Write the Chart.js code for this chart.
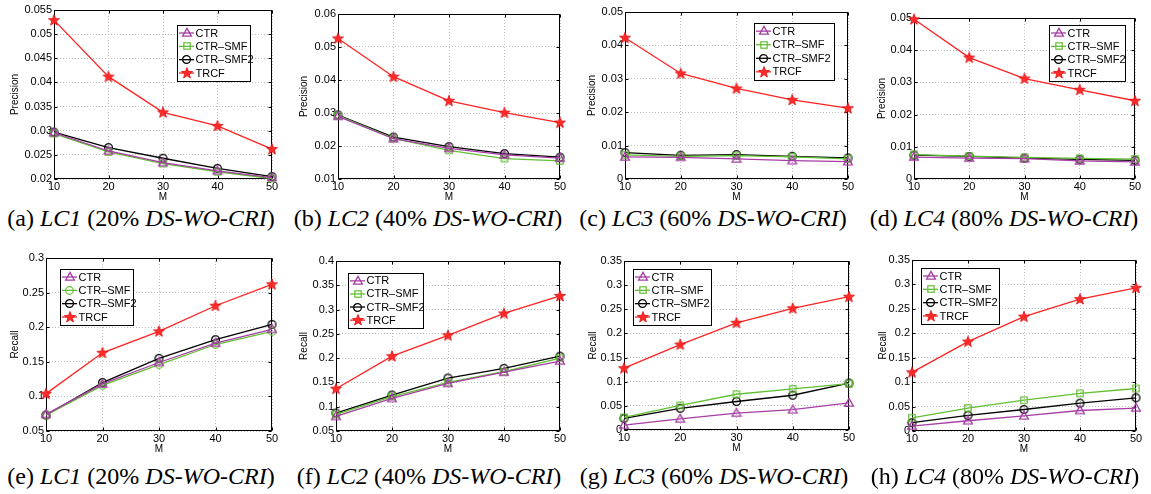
<!DOCTYPE html>
<html><head><meta charset="utf-8">
<script src="https://cdn.jsdelivr.net/npm/chart.js@4.4.1/dist/chart.umd.min.js"></script>
<style>
html,body{margin:0;padding:0;background:#fff;width:1151px;height:494px;overflow:hidden;position:relative;}
canvas.pane{position:absolute;}
.cap{position:absolute;font-family:"Liberation Serif","Times New Roman",serif;font-size:24px;line-height:24px;white-space:nowrap;transform:translateX(-50%);color:#000;}
</style></head><body>
<script>
// ---------- data ----------
const mValues = [10, 20, 30, 40, 50];
const xTickLabels = ['10', '20', '30', '40', '50'];
const seriesNames = ['CTR', 'CTR–SMF', 'CTR–SMF2', 'TRCF'];

// (a) LC1 precision
const lc1PrecCTR  = [0.0296, 0.0258, 0.0234, 0.0217, 0.0203];
const lc1PrecSMF  = [0.0294, 0.0256, 0.0232, 0.0215, 0.0201];
const lc1PrecSMF2 = [0.0297, 0.0265, 0.0243, 0.0222, 0.0205];
const lc1PrecTRCF = [0.0529, 0.0412, 0.0338, 0.0310, 0.0262];
const lc1PrecTicks = ['0.02', '0.025', '0.03', '0.035', '0.04', '0.045', '0.05', '0.055'];

// (b) LC2 precision
const lc2PrecCTR  = [0.0290, 0.0222, 0.0193, 0.0173, 0.0163];
const lc2PrecSMF  = [0.0292, 0.0223, 0.0187, 0.0162, 0.0155];
const lc2PrecSMF2 = [0.0294, 0.0227, 0.0198, 0.0177, 0.0166];
const lc2PrecTRCF = [0.0526, 0.0410, 0.0337, 0.0301, 0.0271];
const lc2PrecTicks = ['0.01', '0.02', '0.03', '0.04', '0.05', '0.06'];

// (c) LC3 precision
const lc3PrecCTR  = [0.0066, 0.0065, 0.0060, 0.0055, 0.0052];
const lc3PrecSMF  = [0.0072, 0.0068, 0.0070, 0.0066, 0.0060];
const lc3PrecSMF2 = [0.0079, 0.0071, 0.0073, 0.0068, 0.0063];
const lc3PrecTRCF = [0.0423, 0.0316, 0.0271, 0.0237, 0.0212];
const lc3PrecTicks = ['0', '0.01', '0.02', '0.03', '0.04', '0.05'];

// (d) LC4 precision
const lc4PrecCTR  = [0.0068, 0.0065, 0.0063, 0.0056, 0.0053];
const lc4PrecSMF  = [0.0076, 0.0071, 0.0067, 0.0064, 0.0062];
const lc4PrecSMF2 = [0.0074, 0.0070, 0.0065, 0.0061, 0.0058];
const lc4PrecTRCF = [0.0496, 0.0377, 0.0312, 0.0277, 0.0243];
const lc4PrecTicks = ['0', '0.01', '0.02', '0.03', '0.04', '0.05'];

// (e) LC1 recall
const lc1RecCTR  = [0.074, 0.118, 0.149, 0.177, 0.197];
const lc1RecSMF  = [0.073, 0.116, 0.146, 0.175, 0.194];
const lc1RecSMF2 = [0.073, 0.120, 0.155, 0.182, 0.204];
const lc1RecTRCF = [0.104, 0.163, 0.194, 0.231, 0.262];
const lc1RecTicks = ['0.05', '0.1', '0.15', '0.2', '0.25', '0.3'];

// (f) LC2 recall
const lc2RecCTR  = [0.080, 0.117, 0.148, 0.171, 0.194];
const lc2RecSMF  = [0.084, 0.121, 0.150, 0.172, 0.200];
const lc2RecSMF2 = [0.087, 0.124, 0.159, 0.179, 0.204];
const lc2RecTRCF = [0.137, 0.204, 0.247, 0.292, 0.328];
const lc2RecTicks = ['0.05', '0.1', '0.15', '0.2', '0.25', '0.3', '0.35', '0.4'];

// (g) LC3 recall
const lc3RecCTR  = [0.010, 0.023, 0.035, 0.042, 0.056];
const lc3RecSMF  = [0.026, 0.051, 0.074, 0.085, 0.096];
const lc3RecSMF2 = [0.024, 0.045, 0.059, 0.072, 0.097];
const lc3RecTRCF = [0.128, 0.177, 0.222, 0.252, 0.276];
const lc3RecTicks = ['0', '0.05', '0.1', '0.15', '0.2', '0.25', '0.3', '0.35'];

// (h) LC4 recall
const lc4RecCTR  = [0.010, 0.021, 0.031, 0.042, 0.047];
const lc4RecSMF  = [0.027, 0.047, 0.063, 0.077, 0.087];
const lc4RecSMF2 = [0.017, 0.032, 0.044, 0.057, 0.068];
const lc4RecTRCF = [0.120, 0.183, 0.234, 0.270, 0.293];
const lc4RecTicks = ['0', '0.05', '0.1', '0.15', '0.2', '0.25', '0.3', '0.35'];

// ---------- styles ----------
const COL = { ctr: '#a63ea6', smf: '#62bf33', smf2: '#000000', trcf: '#ff2222' };
const SANS = '"Liberation Sans", Arial, Helvetica, sans-serif';

function mk(size, draw) {
  const c = document.createElement('canvas');
  c.width = size; c.height = size;
  const g = c.getContext('2d');
  draw(g, size / 2);
  return c;
}
const mTri = mk(12, (g, c) => {
  g.strokeStyle = COL.ctr; g.lineWidth = 1.3;
  g.beginPath(); g.moveTo(c, c - 4.6); g.lineTo(c + 4.4, c + 3.2); g.lineTo(c - 4.4, c + 3.2); g.closePath(); g.stroke();
});
const mSq = mk(10, (g, c) => {
  g.strokeStyle = COL.smf; g.lineWidth = 1.2;
  g.strokeRect(c - 3.2, c - 3.2, 6.4, 6.4);
});
const mCircG = mk(11, (g, c) => {
  g.strokeStyle = COL.smf; g.lineWidth = 1.2;
  g.beginPath(); g.arc(c, c, 3.8, 0, Math.PI * 2); g.stroke();
});
const mCirc = mk(11, (g, c) => {
  g.strokeStyle = COL.smf2; g.lineWidth = 1.3;
  g.beginPath(); g.arc(c, c, 3.9, 0, Math.PI * 2); g.stroke();
});
const mStar = mk(14, (g, c) => {
  g.fillStyle = '#ff2a2a'; g.strokeStyle = '#e01010'; g.lineWidth = 0.8;
  g.beginPath();
  for (let i = 0; i < 10; i++) {
    const r = i % 2 === 0 ? 5.8 : 2.4;
    const a = -Math.PI / 2 + i * Math.PI / 5;
    const x = c + r * Math.cos(a), y = c + 0.3 + r * Math.sin(a);
    if (i === 0) g.moveTo(x, y); else g.lineTo(x, y);
  }
  g.closePath(); g.fill(); g.stroke();
});

// ---------- panels (layout) ----------
const panels = [
  { plot: [54, 10, 272, 179], yTitle: 'Precision', ticks: lc1PrecTicks, series: [lc1PrecCTR, lc1PrecSMF, lc1PrecSMF2, lc1PrecTRCF], legend: [177, 25, 73, 56], yOff: 39, smfM: mSq, cap: ['(a) ', 'LC1', ' (20% ', 'DS-WO-CRI', ')'], capX: 141, capY: 206 },
  { plot: [338, 14, 560, 179], yTitle: 'Precision', ticks: lc2PrecTicks, series: [lc2PrecCTR, lc2PrecSMF, lc2PrecSMF2, lc2PrecTRCF], legend: null, yOff: 34, smfM: mSq, cap: ['(b) ', 'LC2', ' (40% ', 'DS-WO-CRI', ')'], capX: 428, capY: 206 },
  { plot: [625, 12, 848, 179], yTitle: 'Precision', ticks: lc3PrecTicks, series: [lc3PrecCTR, lc3PrecSMF, lc3PrecSMF2, lc3PrecTRCF], legend: [754, 23, 80, 57], yOff: 33, smfM: mSq, cap: ['(c) ', 'LC3', ' (60% ', 'DS-WO-CRI', ')'], capX: 713, capY: 206 },
  { plot: [914, 18, 1135, 179], yTitle: 'Precision', ticks: lc4PrecTicks, series: [lc4PrecCTR, lc4PrecSMF, lc4PrecSMF2, lc4PrecTRCF], legend: [1049, 25, 76, 56], yOff: 32, smfM: mSq, cap: ['(d) ', 'LC4', ' (80% ', 'DS-WO-CRI', ')'], capX: 1004, capY: 206 },
  { plot: [46, 258, 272, 431], yTitle: 'Recall', ticks: lc1RecTicks, series: [lc1RecCTR, lc1RecSMF, lc1RecSMF2, lc1RecTRCF], legend: [60, 269, 73, 56], yOff: 31, smfM: mCircG, cap: ['(e) ', 'LC1', ' (20% ', 'DS-WO-CRI', ')'], capX: 141, capY: 464 },
  { plot: [336, 261, 560, 431], yTitle: 'Recall', ticks: lc2RecTicks, series: [lc2RecCTR, lc2RecSMF, lc2RecSMF2, lc2RecTRCF], legend: [348, 273, 75, 55], yOff: 32, smfM: mSq, cap: ['(f) ', 'LC2', ' (40% ', 'DS-WO-CRI', ')'], capX: 429, capY: 464 },
  { plot: [624, 261, 849, 430], yTitle: 'Recall', ticks: lc3RecTicks, series: [lc3RecCTR, lc3RecSMF, lc3RecSMF2, lc3RecTRCF], legend: [633, 269, 78, 56], yOff: 31, smfM: mSq, cap: ['(g) ', 'LC3', ' (60% ', 'DS-WO-CRI', ')'], capX: 714, capY: 464 },
  { plot: [912, 260, 1136, 431], yTitle: 'Recall', ticks: lc4RecTicks, series: [lc4RecCTR, lc4RecSMF, lc4RecSMF2, lc4RecTRCF], legend: [921, 268, 78, 56], yOff: 29, smfM: mSq, cap: ['(h) ', 'LC4', ' (80% ', 'DS-WO-CRI', ')'], capX: 1005, capY: 464 }
];

const Y_W = 54, PAD_T = 10, PAD_R = 10, X_H = 24;

const framePlugin = {
  id: 'frame',
  beforeDatasetsDraw(chart) {
    const a = chart.chartArea, g = chart.ctx;
    g.save();
    g.strokeStyle = '#000'; g.lineWidth = 1;
    const L = Math.round(a.left) + 0.5, R = Math.round(a.right) - 0.5, T = Math.round(a.top) + 0.5, B = Math.round(a.bottom) - 0.5;
    g.strokeRect(L, T, R - L, B - T);
    g.beginPath();
    chart.scales.x.ticks.forEach(t => {
      const x = Math.round(chart.scales.x.getPixelForValue(t.value)) + 0.5;
      g.moveTo(x, B); g.lineTo(x, B - 3); g.moveTo(x, T); g.lineTo(x, T + 3);
    });
    chart.scales.y.ticks.forEach(t => {
      const y = Math.round(chart.scales.y.getPixelForValue(t.value)) + 0.5;
      g.moveTo(L, y); g.lineTo(L + 3, y); g.moveTo(R, y); g.lineTo(R - 3, y);
    });
    g.stroke();
    g.restore();
  },
  afterDraw(chart, args, opts) {
    const lg = opts.box;
    if (!lg) return;
    const g = chart.ctx;
    const [bx, by, bw, bh] = lg;
    g.save();
    g.fillStyle = '#fff'; g.strokeStyle = '#000'; g.lineWidth = 1;
    g.fillRect(bx, by, bw, bh);
    g.strokeRect(Math.round(bx) + 0.5, Math.round(by) + 0.5, bw, bh);
    g.font = '11px ' + SANS; g.textBaseline = 'middle'; g.fillStyle = '#000';
    chart.data.datasets.forEach((ds, i) => {
      const y = by + bh * (0.143 + i * 0.238);
      g.strokeStyle = ds.borderColor; g.lineWidth = 1.3;
      g.beginPath(); g.moveTo(bx + 2, y); g.lineTo(bx + 17, y); g.stroke();
      const m = ds.pointStyle;
      g.drawImage(m, Math.round(bx + 9.5 - m.width / 2), Math.round(y - m.height / 2));
      g.fillStyle = '#000';
      g.fillText(ds.label, bx + 18.5, y + 0.5);
    });
    g.restore();
  }
};

panels.forEach(p => {
  const [L, T, R, B] = p.plot;
  const cv = document.createElement('canvas');
  cv.className = 'pane';
  const cl = L - Y_W, ct = T - PAD_T;
  const cw = R - L + Y_W + PAD_R, ch = B - T + PAD_T + X_H;
  cv.width = cw; cv.height = ch;
  cv.style.left = cl + 'px'; cv.style.top = ct + 'px';
  cv.style.width = cw + 'px'; cv.style.height = ch + 'px';
  document.body.appendChild(cv);

  const tickVals = p.ticks.map(Number);
  const markers = [mTri, p.smfM, mCirc, mStar];
  const colors = [COL.ctr, COL.smf, COL.smf2, COL.trcf];
  const datasets = p.series.map((arr, i) => ({
    label: seriesNames[i],
    data: mValues.map((x, j) => ({ x: x, y: arr[j] })),
    borderColor: colors[i],
    backgroundColor: colors[i],
    borderWidth: 1.3,
    pointStyle: markers[i],
    pointRadius: 4,
    pointHoverRadius: 4,
    tension: 0,
    clip: false
  }));
  const legendBox = p.legend ? [p.legend[0] - cl, p.legend[1] - ct, p.legend[2], p.legend[3]] : null;

  new Chart(cv, {
    type: 'line',
    data: { datasets },
    plugins: [framePlugin],
    options: {
      responsive: false, animation: false, devicePixelRatio: 1,
      events: [],
      layout: { padding: { left: 0, top: PAD_T, right: PAD_R, bottom: 0 } },
      plugins: { legend: { display: false }, tooltip: { enabled: false }, frame: { box: legendBox } },
      scales: {
        x: {
          type: 'linear', min: mValues[0], max: mValues[mValues.length - 1],
          afterBuildTicks: s => { s.ticks = mValues.map(v => ({ value: v })); },
          afterFit: s => { s.height = X_H; },
          ticks: { callback: (v, i) => xTickLabels[i], font: { family: SANS, size: 11 }, color: '#000', padding: 1, maxRotation: 0, autoSkip: false },
          grid: { color: '#bdbdbd', drawTicks: false, lineWidth: 1 },
          border: { display: false, dash: [1, 2] },
          title: { display: true, text: 'M', font: { family: SANS, size: 10 }, color: '#000', padding: 0 }
        },
        y: {
          type: 'linear', min: tickVals[0], max: tickVals[tickVals.length - 1],
          afterBuildTicks: s => { s.ticks = tickVals.map(v => ({ value: v })); },
          afterFit: s => { s.width = Y_W; },
          ticks: { callback: (v, i) => p.ticks[i], font: { family: SANS, size: 11 }, color: '#000', padding: 2, autoSkip: false },
          grid: { color: '#bdbdbd', drawTicks: false, lineWidth: 1 },
          border: { display: false, dash: [1, 2] },
          title: { display: true, text: p.yTitle, font: { family: SANS, size: 10 }, color: '#000', padding: { top: Y_W - 6 - p.yOff, bottom: 0 } }
        }
      }
    }
  });

  const cap = document.createElement('div');
  cap.className = 'cap';
  cap.style.left = p.capX + 'px'; cap.style.top = p.capY + 'px';
  p.cap.forEach((txt, i) => {
    const el = document.createElement(i % 2 === 1 ? 'i' : 'span');
    el.textContent = txt;
    cap.appendChild(el);
  });
  document.body.appendChild(cap);
});
</script>
</body></html>
